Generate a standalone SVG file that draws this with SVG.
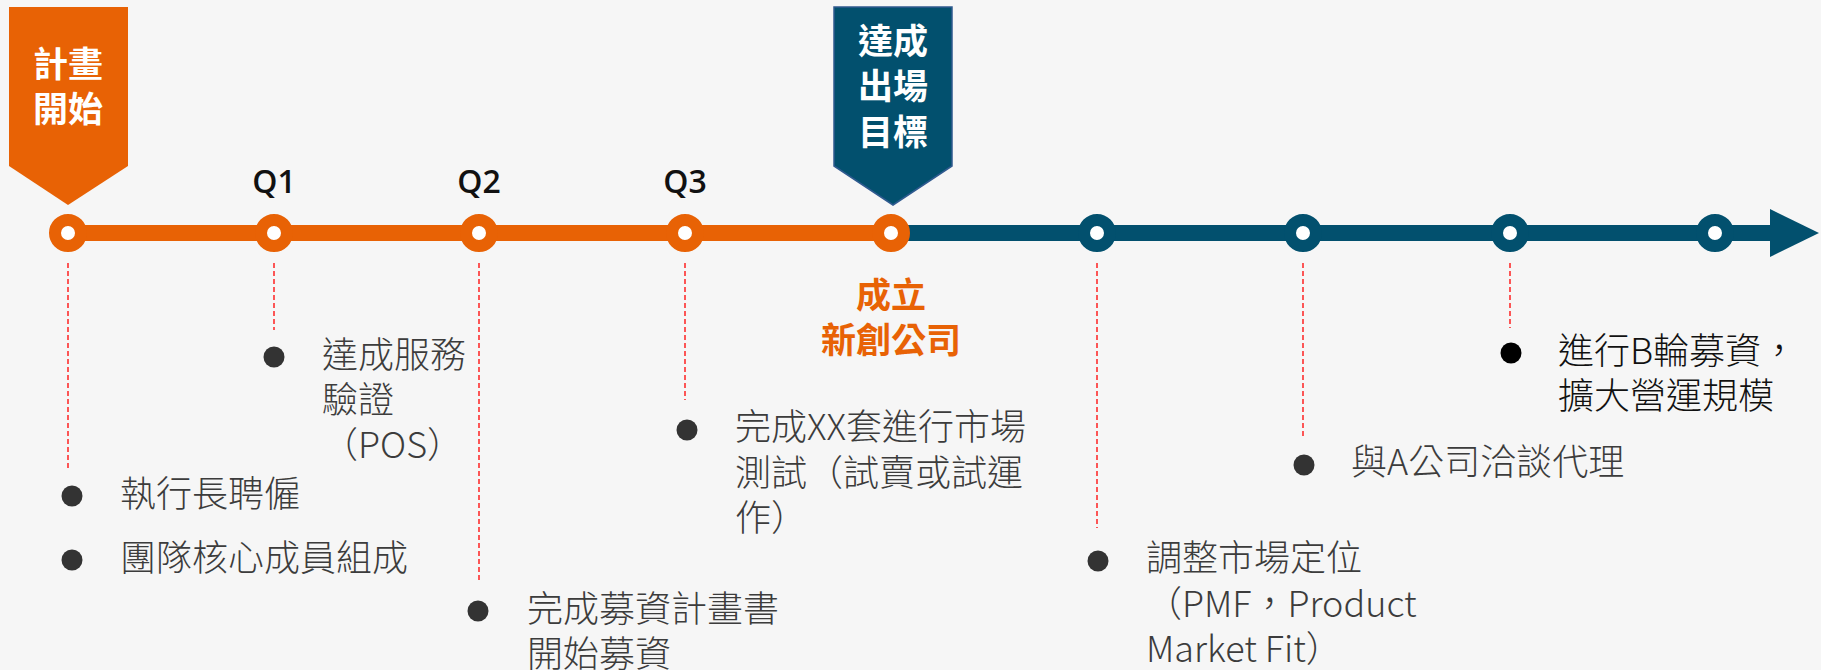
<svg xmlns="http://www.w3.org/2000/svg" width="1821" height="670" viewBox="0 0 1821 670">
<defs>
<style>
.body{font-family:"Noto Sans CJK TC","Noto Sans CJK SC",sans-serif;font-size:36px;font-weight:300;fill:#3c3c3c}
.blk{fill:#111}
.ban{font-family:"Noto Sans CJK TC",sans-serif;font-size:35px;font-weight:700;fill:#fff;text-anchor:middle}
.q{font-family:"Open Sans","Noto Sans",sans-serif;font-size:32px;font-weight:600;fill:#111;text-anchor:middle}
.co{font-family:"Noto Sans CJK TC",sans-serif;font-size:35px;font-weight:700;fill:#e86205;text-anchor:middle}
.dash{stroke:#ff0000;stroke-width:1.3;stroke-dasharray:5 3;fill:none}
.ringO{fill:#fff;stroke:#e86205;stroke-width:12}
.ringB{fill:#fff;stroke:#02506e;stroke-width:12}
.bul{fill:#333}
</style>
</defs>
<rect width="1821" height="670" fill="#f6f6f6"/>
<g id="connectors">
<line class="dash" x1="68" y1="263" x2="68" y2="470"/>
<line class="dash" x1="274" y1="263" x2="274" y2="330"/>
<line class="dash" x1="479" y1="263" x2="479" y2="582"/>
<line class="dash" x1="685" y1="263" x2="685" y2="400"/>
<line class="dash" x1="1097" y1="263" x2="1097" y2="528"/>
<line class="dash" x1="1303" y1="263" x2="1303" y2="437"/>
<line class="dash" x1="1510" y1="263" x2="1510" y2="328"/>
</g>
<g id="timeline">
<rect x="68" y="225" width="823" height="16" fill="#e86205"/>
<rect x="891" y="225" width="882" height="16" fill="#02506e"/>
<polygon points="1770,209 1819,233 1770,257" fill="#02506e"/>
</g>
<g id="start-banner">
<polygon points="9,7 128,7 128,166 68,205 9,166" fill="#e86205"/>
<text class="ban" x="68" y="77">計畫</text>
<text class="ban" x="68" y="122">開始</text>
</g>
<g id="exit-banner">
<polygon points="834,7 952,7 952,166 893,205 834,166" fill="#02506e" stroke="#2f5a8f" stroke-width="1.5"/>
<text class="ban" x="893" y="54">達成</text>
<text class="ban" x="893" y="99">出場</text>
<text class="ban" x="893" y="145">目標</text>
</g>
<g id="q-labels">
<text class="q" x="274" y="193">Q1</text>
<text class="q" x="479" y="193">Q2</text>
<text class="q" x="685" y="193">Q3</text>
</g>
<g id="nodes">
<circle class="ringO" cx="68" cy="233" r="13"/>
<circle class="ringO" cx="274" cy="233" r="13"/>
<circle class="ringO" cx="479" cy="233" r="13"/>
<circle class="ringO" cx="685" cy="233" r="13"/>
<circle class="ringO" cx="891" cy="233" r="13"/>
<circle class="ringB" cx="1097" cy="233" r="13"/>
<circle class="ringB" cx="1303" cy="233" r="13"/>
<circle class="ringB" cx="1510" cy="233" r="13"/>
<circle class="ringB" cx="1715" cy="233" r="13"/>
</g>
<g id="item-start">
<circle class="bul" cx="72" cy="496" r="10.5"/>
<text class="body" x="120" y="507">執行長聘僱</text>
<circle class="bul" cx="72" cy="560" r="10.5"/>
<text class="body" x="120" y="571">團隊核心成員組成</text>
</g>
<g id="item-q1">
<circle class="bul" cx="274" cy="357" r="10.5"/>
<text class="body" x="322" y="368">達成服務</text>
<text class="body" x="322" y="413">驗證</text>
<text class="body" x="322" y="458">（POS）</text>
</g>
<g id="item-q2">
<circle class="bul" cx="478" cy="611" r="10.5"/>
<text class="body" x="527" y="622">完成募資計畫書</text>
<text class="body" x="527" y="667">開始募資</text>
</g>
<g id="item-q3">
<circle class="bul" cx="687" cy="430" r="10.5"/>
<text class="body" x="735" y="440">完成XX套進行市場</text>
<text class="body" x="735" y="486">測試（試賣或試運</text>
<text class="body" x="735" y="531">作）</text>
</g>
<g id="item-company">
<text class="co" x="891" y="308">成立</text>
<text class="co" x="891" y="353">新創公司</text>
</g>
<g id="item-pmf">
<circle class="bul" cx="1098" cy="561" r="10.5"/>
<text class="body" x="1146" y="571">調整市場定位</text>
<text class="body" x="1146" y="617">（PMF，Product</text>
<text class="body" x="1146" y="662">Market Fit）</text>
</g>
<g id="item-agent">
<circle class="bul" cx="1304" cy="465" r="10.5"/>
<text class="body" x="1351" y="475">與A公司洽談代理</text>
</g>
<g id="item-round-b">
<circle cx="1511" cy="353" r="10.5" fill="#000"/>
<text class="body blk" x="1558" y="364">進行B輪募資，</text>
<text class="body blk" x="1558" y="409">擴大營運規模</text>
</g>
</svg>
